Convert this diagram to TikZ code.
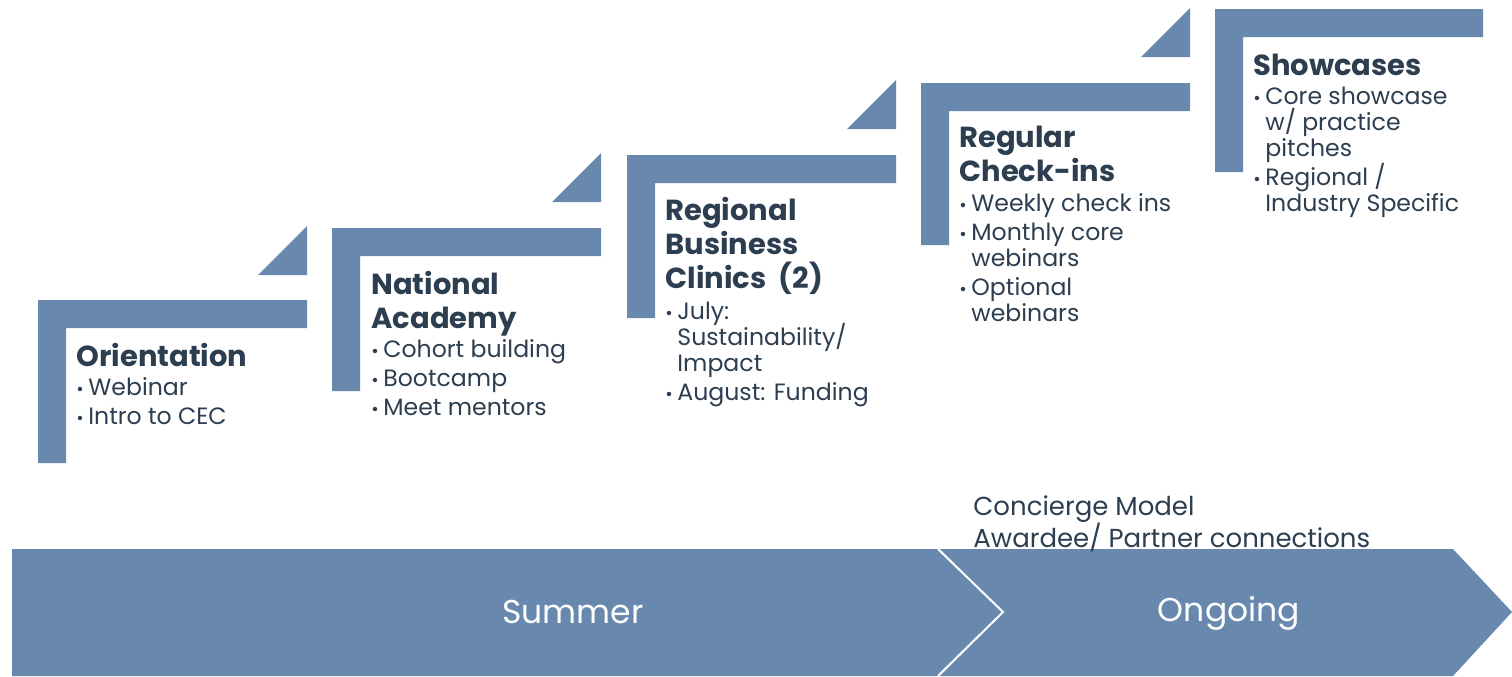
\documentclass[tikz,border=0pt]{standalone}
\usepackage{fontspec}
\setmainfont{Poppins}
\usetikzlibrary{positioning}
\definecolor{stepblue}{RGB}{104,137,173}
\definecolor{inkdark}{RGB}{44,62,80}
\tikzset{
  stepfill/.style={fill=stepblue},
  steptitle/.style={anchor=base west, inner sep=0pt, align=left, text=inkdark,
    font=\fontsize{14.5}{17}\selectfont\bfseries},
  stepitems/.style={anchor=base west, inner sep=0pt, align=left, text=inkdark,
    font=\fontsize{11.8}{13}\selectfont},
  phase/.style={text=white, inner sep=0pt, font=\fontsize{16.5}{20}\selectfont}
}
\newcommand{\itm}{\makebox[6pt][l]{\small•}}
\newcommand{\cont}{\hspace*{6pt}}

\begin{document}
\setlength{\lineskiplimit}{-10pt}
\begin{tikzpicture}[x=0.5pt,y=-0.5pt]
    \useasboundingbox (0,0) rectangle (1512,676);
    % steps
    \fill[stepfill] (38,300) -- (307,300) -- (307,328) -- (66,328) -- (66,463) -- (38,463) -- cycle;
    \fill[stepfill] (258,275) -- (307,275) -- (307,226) -- cycle;
    \fill[stepfill] (332,228) -- (601,228) -- (601,256) -- (360,256) -- (360,391) -- (332,391) -- cycle;
    \fill[stepfill] (552,202) -- (601,202) -- (601,153) -- cycle;
    \fill[stepfill] (627,155) -- (896,155) -- (896,183) -- (655,183) -- (655,318) -- (627,318) -- cycle;
    \fill[stepfill] (847,129) -- (896,129) -- (896,80) -- cycle;
    \fill[stepfill] (921,83) -- (1190,83) -- (1190,111) -- (949,111) -- (949,245) -- (921,245) -- cycle;
    \fill[stepfill] (1141,57) -- (1190,57) -- (1190,8) -- cycle;
    \fill[stepfill] (1215,9) -- (1483,9) -- (1483,37) -- (1243,37) -- (1243,172) -- (1215,172) -- cycle;
    % bottom arrow
    \fill[stepfill] (12,549) -- (940,549) -- (1003,612) -- (940,676) -- (12,676) -- cycle;
    \fill[stepfill] (940,549) -- (1453,549) -- (1512,612) -- (1453,676) -- (940,676) -- (1003,612) -- cycle;
    \draw[white, line width=1pt] (938,549) -- (1003,612) -- (938,676);
    \node[phase] (summer) at (573,612) {Summer};
    \node[phase] (ongoing) at (1229,613) {Ongoing};
    % texts (base = last line)
    \node[steptitle] (orient) at (76,366) {Orientation};
    \node[stepitems] (orientlist) at (76,424) {\itm Webinar\\[1.5pt]\itm Intro to CEC};
    \node[steptitle] (academy) at (371,328) {National\\Academy};
    \node[stepitems] (academylist) at (371,415) {\itm Cohort building\\[1.5pt]\itm Bootcamp\\[1.5pt]\itm Meet mentors};
    \node[steptitle] (clinics) at (665,288) {Regional\\Business\\Clinics\ \ (2)};
    \node[stepitems] (clinicslist) at (665,400) {\itm July:\\\cont Sustainability/\\\cont Impact\\[1.5pt]\itm August: Funding};
    \node[steptitle] (checkins) at (959,181) {Regular\\Check-ins};
    \node[stepitems] (checkinslist) at (959,321) {\itm Weekly check ins\\[1.5pt]\itm Monthly core\\\cont webinars\\[1.5pt]\itm Optional\\\cont webinars};
    \node[steptitle] (showcase) at (1253,75) {Showcases};
    \node[stepitems] (showcaselist) at (1253,211) {\itm Core showcase\\\cont w/ practice\\\cont pitches\\[1.5pt]\itm Regional /\\\cont Industry Specific};
    \node[stepitems, font=\fontsize{13}{16}\selectfont] (concierge) at (973,547) {Concierge Model\\Awardee/ Partner connections};
\end{tikzpicture}
\end{document}
